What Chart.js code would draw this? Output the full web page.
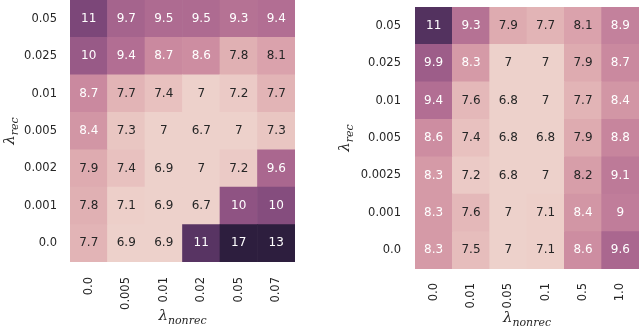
<!DOCTYPE html>
<html lang="en">
<head>
<meta charset="UTF-8">
<title>Reconstruction error heatmaps</title>
<script src="https://cdn.jsdelivr.net/npm/chart.js"></script>
<style>
  body { margin: 0; background: #fff; }
  .wrap { position: relative; width: 640px; height: 327px; overflow: hidden; }
  canvas { position: absolute; top: 0; }
  #leftMap { left: 0; }
  #rightMap { left: 320px; }
</style>
</head>
<body>
<div class="wrap">
  <canvas id="leftMap" width="300" height="327"></canvas>
  <canvas id="rightMap" width="320" height="327"></canvas>
</div>
<script>
  // left heatmap (rows listed top to bottom)
  const leftCols = ['0.0', '0.005', '0.01', '0.02', '0.05', '0.07'];
  const leftRows = ['0.05', '0.025', '0.01', '0.005', '0.002', '0.001', '0.0'];
  const leftValues = [
    [10.6, 9.7, 9.5, 9.5, 9.3, 9.4],
    [10.0, 9.4, 8.7, 8.6, 7.8, 8.1],
    [8.7, 7.7, 7.4, 7.0, 7.2, 7.7],
    [8.4, 7.3, 7.0, 6.7, 7.0, 7.3],
    [7.9, 7.4, 6.9, 7.0, 7.2, 9.6],
    [7.8, 7.1, 6.9, 6.7, 10.2, 10.4],
    [7.7, 6.9, 6.9, 11.3, 17, 13]
  ];

  // right heatmap
  const rightCols = ['0.0', '0.01', '0.05', '0.1', '0.5', '1.0'];
  const rightRows = ['0.05', '0.025', '0.01', '0.005', '0.0025', '0.001', '0.0'];
  const rightValues = [
    [11.4, 9.3, 7.9, 7.7, 8.1, 8.9],
    [9.9, 8.3, 7.0, 7.0, 7.9, 8.7],
    [9.4, 7.6, 6.8, 7.0, 7.7, 8.4],
    [8.6, 7.4, 6.8, 6.8, 7.9, 8.8],
    [8.3, 7.2, 6.8, 7.0, 8.2, 9.1],
    [8.3, 7.6, 7.0, 7.1, 8.4, 9.0],
    [8.3, 7.5, 7.0, 7.1, 8.6, 9.6]
  ];

  // colour range (values outside are clipped)
  const vMin = 7.05;
  const vMax = 12.15;
  const tickColor = '#262626';

  // seaborn default cubehelix palette (light -> dark)
  function cubehelix(t) {
    t = Math.min(Math.max(t, 0), 1);
    const x = 0.85 - 0.7 * t;
    const a = 0.8 * x * (1 - x) / 2;
    const phi = 2 * Math.PI * 0.4 * x;
    const c = Math.cos(phi), s = Math.sin(phi);
    const r = x + a * (-0.14861 * c + 1.78277 * s);
    const g = x + a * (-0.29227 * c - 0.90649 * s);
    const b = x + a * (1.97294 * c);
    return [r, g, b].map(v => Math.min(1, Math.max(0, v)));
  }

  function toCss(rgb) {
    return 'rgb(' + rgb.map(v => Math.round(v * 255)).join(',') + ')';
  }

  function luminance(rgb) {
    const lin = rgb.map(v => v <= 0.03928 ? v / 12.92 : Math.pow((v + 0.055) / 1.055, 2.4));
    return 0.2126 * lin[0] + 0.7152 * lin[1] + 0.0722 * lin[2];
  }

  function fmt(v) {
    return String(Number(v.toPrecision(2)));
  }

  // value text in each cell
  const cellLabels = {
    id: 'cellLabels',
    afterDatasetsDraw(chart) {
      const ctx = chart.ctx;
      ctx.save();
      ctx.font = "12px 'DejaVu Sans'";
      ctx.textAlign = 'center';
      ctx.textBaseline = 'middle';
      chart.data.datasets.forEach((ds, di) => {
        const meta = chart.getDatasetMeta(di);
        meta.data.forEach((bar, ci) => {
          const v = ds.cellValues[ci];
          const rgb = cubehelix((v - vMin) / (vMax - vMin));
          ctx.fillStyle = luminance(rgb) > 0.408 ? tickColor : '#ffffff';
          ctx.fillText(fmt(v), bar.x, (bar.y + bar.base) / 2);
        });
      });
      ctx.restore();
    }
  };

  function drawLambda(ctx, sub, cx, cy, angle) {
    ctx.save();
    ctx.translate(cx, cy);
    ctx.rotate(angle);
    ctx.fillStyle = tickColor;
    ctx.textBaseline = 'middle';
    ctx.textAlign = 'left';
    ctx.font = "italic 15px 'DejaVu Serif'";
    const w1 = ctx.measureText('λ').width;
    ctx.font = "italic 11px 'DejaVu Serif'";
    const w2 = ctx.measureText(sub).width;
    const x0 = -(w1 + w2) / 2;
    ctx.font = "italic 15px 'DejaVu Serif'";
    ctx.fillText('λ', x0, -2);
    ctx.font = "italic 11px 'DejaVu Serif'";
    ctx.fillText(sub, x0 + w1, 3);
    ctx.restore();
  }

  const axisTitles = {
    id: 'axisTitles',
    afterDraw(chart, args, opts) {
      const area = chart.chartArea;
      drawLambda(chart.ctx, 'nonrec', (area.left + area.right) / 2, area.bottom + opts.xOffset, 0);
      drawLambda(chart.ctx, 'rec', area.left - opts.yOffset, (area.top + area.bottom) / 2, -Math.PI / 2);
    }
  };

  function makeHeatmap(id, cols, rows, values, box) {
    const n = rows.length;
    const datasets = [];
    for (let j = n - 1; j >= 0; j--) {
      datasets.push({
        label: rows[j],
        data: cols.map(() => 1),
        cellValues: values[j],
        backgroundColor: values[j].map(v => toCss(cubehelix((v - vMin) / (vMax - vMin)))),
        borderWidth: 0,
        barPercentage: 1,
        categoryPercentage: 1
      });
    }

    return new Chart(document.getElementById(id), {
      type: 'bar',
      data: { labels: cols, datasets: datasets },
      options: {
        responsive: false,
        animation: false,
        devicePixelRatio: 1,
        layout: { padding: box.padding },
        plugins: {
          legend: { display: false },
          tooltip: { enabled: false },
          axisTitles: { xOffset: box.xTitle, yOffset: box.yTitle }
        },
        scales: {
          x: {
            stacked: true,
            grid: { display: false, drawTicks: false },
            border: { display: false },
            ticks: {
              autoSkip: false,
              maxRotation: 90,
              minRotation: 90,
              padding: box.xPad,
              color: tickColor,
              font: { family: 'DejaVu Sans', size: 11.5 }
            },
            afterFit: s => {
              s.height = box.xHeight;
              s.paddingLeft = 0;
              s.paddingRight = 0;
            }
          },
          y: {
            stacked: true,
            min: 0,
            max: n,
            grid: { display: false, drawTicks: false },
            border: { display: false },
            afterBuildTicks: s => { s.ticks = rows.map((_, i) => ({ value: i + 0.5 })); },
            ticks: {
              padding: box.yPad,
              color: tickColor,
              font: { family: 'DejaVu Sans', size: 11.5 },
              callback: v => rows[n - 1 - Math.floor(v)]
            },
            afterFit: s => {
              s.width = box.yWidth;
              s.paddingTop = 0;
              s.paddingBottom = 0;
            }
          }
        }
      },
      plugins: [cellLabels, axisTitles]
    });
  }

  makeHeatmap('leftMap', leftCols, leftRows, leftValues, {
    padding: { left: 0, right: 5, top: 0, bottom: 0 },
    xHeight: 65, yWidth: 70, xPad: 15, yPad: 13, xTitle: 56, yTitle: 58
  });

  makeHeatmap('rightMap', rightCols, rightRows, rightValues, {
    padding: { left: 0, right: 1, top: 7, bottom: 0 },
    xHeight: 58, yWidth: 95, xPad: 14, yPad: 14, xTitle: 51, yTitle: 68
  });
</script>
</body>
</html>
